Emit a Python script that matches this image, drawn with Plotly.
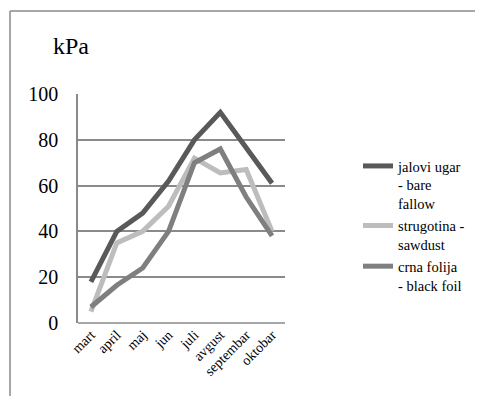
import plotly.graph_objects as go

months = ["mart", "april", "maj", "jun", "juli", "avgust", "septembar", "oktobar"]
jalovi_ugar = [18, 40, 48, 62, 80, 92, 76.5, 61]
strugotina = [5, 35, 40, 51, 72, 65.5, 67, 40]
crna_folija = [7, 16.5, 24, 40, 70, 76, 55, 38]
series_names = ["jalovi ugar<br>- bare<br>fallow", "strugotina -<br>sawdust", "crna folija<br>- black foil"]
series_colors = ["#595959", "#bdbdbd", "#7f7f7f"]
y_ticks = [0, 20, 40, 60, 80, 100]

FONT = "Times New Roman, Liberation Serif, DejaVu Serif, serif"

fig = go.Figure()
for name, vals, col in zip(series_names, [jalovi_ugar, strugotina, crna_folija], series_colors):
    fig.add_trace(go.Scatter(x=months, y=vals, mode="lines", name=name,
                             line=dict(color=col, width=5)))

# page body has an 8px margin; figure coords = page coords - 8
W, H = 467, 388
L, T = 70, 86
PX1, PY1 = 277, 315
R, B = W - PX1, H - PY1
pw, ph = PX1 - L, PY1 - T

def px(x):
    return (x - L) / pw

def py(y):
    return (PY1 - y) / ph

fig.update_layout(
    width=W, height=H,
    margin=dict(l=L, r=R, t=T, b=B, autoexpand=False),
    paper_bgcolor="white", plot_bgcolor="white",
    font=dict(family=FONT, color="black"),
    showlegend=True,
    legend=dict(x=px(350), y=py(142), xanchor="left", yanchor="top",
                font=dict(size=14.5, family=FONT, color="black"), valign="top",
                bgcolor="rgba(0,0,0,0)", tracegroupgap=0),
    xaxis=dict(type="category", showgrid=False, showline=False, zeroline=False,
               tickangle=-45, tickfont=dict(size=14, family=FONT, color="black"), ticks="",
               range=[-0.5, 7.5], automargin=False),
    yaxis=dict(range=[0, 100], tickvals=y_ticks, showgrid=True, gridcolor="#8a8a8a",
               gridwidth=1.5, showline=True, linecolor="#8a8a8a", linewidth=1.5,
               zeroline=False, tickfont=dict(size=20, family=FONT, color="black"), ticks="",
               ticklabelstandoff=14, automargin=False),
    annotations=[dict(text="kPa", xref="paper", yref="paper",
                      x=px(63), y=py(38), xanchor="center", yanchor="middle",
                      showarrow=False, font=dict(size=24, family=FONT, color="black"))],
    shapes=[
        dict(type="line", xref="paper", yref="paper",
             x0=px(2), x1=px(2), y0=py(3), y1=py(420),
             line=dict(color="#8a8a8a", width=1.5)),
        dict(type="line", xref="paper", yref="paper",
             x0=px(2), x1=px(500), y0=py(3), y1=py(3),
             line=dict(color="#8a8a8a", width=1.5)),
        dict(type="line", xref="paper", yref="paper", layer="below",
             x0=0, x1=1, y0=0, y1=0, line=dict(color="#8a8a8a", width=1.5)),
    ],
)

fig.write_html("out.html")
